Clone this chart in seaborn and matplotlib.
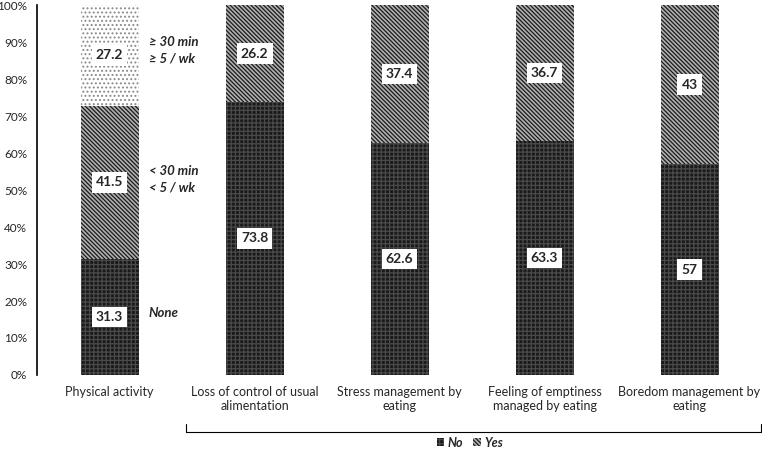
import matplotlib
matplotlib.use('Agg')
import matplotlib.pyplot as plt
import matplotlib.transforms as mtransforms
from matplotlib.patches import Patch
import numpy as np
import seaborn as sns

categories = ["Physical activity", "Loss of control of usual\nalimentation",
              "Stress management by\neating", "Feeling of emptiness\nmanaged by eating",
              "Boredom management by\neating"]
no_vals = [31.3, 73.8, 62.6, 63.3, 57]
yes_vals = [41.5, 26.2, 37.4, 36.7, 43]
high_vals = [27.2, 0, 0, 0, 0]
side_labels = ["None", "< 30 min\n< 5 / wk", "\u2265 30 min\n\u2265 5 / wk"]
yticks = [0, 10, 20, 30, 40, 50, 60, 70, 80, 90, 100]

sns.set_style('white')
plt.rcParams['font.family'] = ['Lato', 'DejaVu Sans']
plt.rcParams['hatch.linewidth'] = 0.9

fig = plt.figure(figsize=(7.62, 4.5), dpi=100)
ax = fig.add_axes([0.0486, 0.1667, 0.9514, 0.822])

no = np.array(no_vals)
yes = np.array(yes_vals)
high = np.array(high_vals)

NO_STYLE = ('#1a1a1a', '#4a4a4a', '++++')
YES_STYLE = ('#b0b0b0', '#1a1a1a', '\\\\\\\\\\\\\\\\')
HIGH_STYLE = ('white', '#8a8a8a', '....')

# layers drawn from the top down so the lower ones sit on top
layers = [(no + yes + high, HIGH_STYLE), (no + yes, YES_STYLE), (no, NO_STYLE)]
for heights, (face, hcol, hatch) in layers:
    sns.barplot(x=categories, y=heights, width=0.4, ax=ax, color=face)
    for p in ax.containers[-1]:
        p.set_facecolor(face)
        p.set_edgecolor(hcol)
        p.set_hatch(hatch)
        p.set_linewidth(0)

# value boxes
box = dict(boxstyle='square,pad=0.3', fc='white', ec='none')
for i in range(len(categories)):
    base = 0
    for s in [no[i], yes[i], high[i]]:
        if s > 0:
            ax.text(i, base + s / 2, f'{s:g}', ha='center', va='center', fontsize=10,
                    fontweight='bold', bbox=box)
        base += s

# side labels for physical activity
side_y = [no[0] / 2 + 1, no[0] + yes[0] / 2 + 1, no[0] + yes[0] + high[0] / 2 + 1.5]
for lab, y in zip(side_labels, side_y):
    ax.text(0.27, y, lab, ha='left', va='center', fontsize=9.5, fontstyle='italic',
            fontweight='bold', linespacing=1.45)

ax.set_xlim(-0.5, 4.5)
ax.set_ylim(0, 100)
ax.set_yticks(yticks)
ax.set_yticklabels([f'{t}%' for t in yticks], fontsize=8.5)
ax.tick_params(axis='x', labelsize=9, length=0, pad=8)
ax.tick_params(axis='y', length=0, pad=7)
for side in ['top', 'right', 'bottom']:
    ax.spines[side].set_visible(False)
ax.spines['left'].set_color('black')
ax.spines['left'].set_linewidth(1.2)

# bracket below the four eating categories
trans = mtransforms.blended_transform_factory(ax.transData, ax.transAxes)
ax.plot([0.53, 0.53, 4.49, 4.49], [-0.133, -0.154, -0.154, -0.133], color='black', lw=0.8,
        transform=trans, clip_on=False)

handles = [Patch(facecolor=NO_STYLE[0], edgecolor=NO_STYLE[1], hatch=NO_STYLE[2], lw=0, label='No'),
           Patch(facecolor=YES_STYLE[0], edgecolor=YES_STYLE[1], hatch=YES_STYLE[2], lw=0, label='Yes')]
fig.legend(handles=handles, loc='center', bbox_to_anchor=(0.617, 0.016), ncol=2,
           frameon=False, handlelength=0.6, handleheight=0.6, handletextpad=0.3,
           columnspacing=0.8, prop={'size': 9, 'style': 'italic', 'weight': 'bold'})

fig.savefig('out.png', dpi=100)
